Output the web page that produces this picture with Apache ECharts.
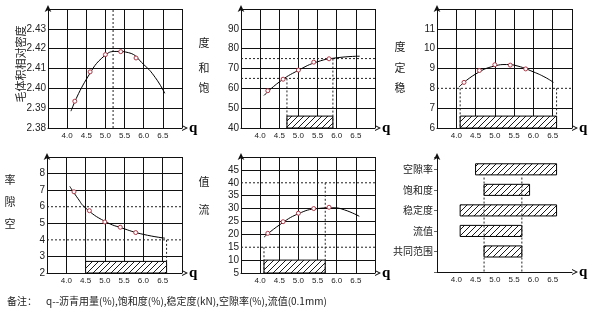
<!DOCTYPE html>
<html><head><meta charset="utf-8">
<script src="https://cdn.jsdelivr.net/npm/echarts@6/dist/echarts.min.js"></script>
<style>html,body{margin:0;padding:0;background:#fff}#c{width:590px;height:312px}</style>
</head><body><div id="c"></div>
<script>
// ---- data ----
const asphalt = [4.2, 4.6, 5.0, 5.4, 5.8];

const densityPts = [2.3935, 2.4083, 2.4170, 2.4185, 2.4153];
const densityCurve = [[4.1,2.3885],[4.5,2.4045],[5.0,2.4168],[5.3,2.4186],[5.6,2.4180],[6.0,2.4120],[6.3,2.4055],[6.55,2.3975]];
const densityOpt = 5.2;

const satPts = [58.8, 64.6, 69.2, 73.2, 74.9];
const satCurve = [[4.1,56.4],[4.5,63.2],[5.0,69.1],[5.5,73.4],[6.0,75.4],[6.6,76.2]];
const satLimits = [65, 75];
const satRange = [4.7, 5.9];
const satBox = [40, 46];

const stabPts = [8.3, 8.9, 9.19, 9.17, 8.98];
const stabCurve = [[4.07,8.07],[4.5,8.72],[5.0,9.13],[5.3,9.2],[5.6,9.12],[6.0,8.83],[6.3,8.56],[6.52,8.3]];
const stabLimits = [8];
const stabRange = [4.1, 6.6];
const stabBox = [6, 6.6];

const voidPts = [6.9, 5.76, 5.08, 4.76, 4.44];
const voidCurve = [[4.09,7.23],[4.3,6.5],[4.5,5.92],[5.0,5.12],[5.5,4.67],[6.0,4.33],[6.56,4.1]];
const voidLimits = [6, 4];
const voidRange = [4.5, 6.6];
const voidBox = [2, 2.7];

const flowPts = [20.4, 24.9, 28.2, 30.0, 30.5];
const flowCurve = [[4.1,18.9],[4.5,23.6],[5.0,28.0],[5.5,30.0],[5.9,30.3],[6.2,29.5],[6.59,27.0]];
const flowLimits = [15, 40];
const flowRange = [4.1, 5.7];
const flowBox = [5, 10];

const rangeCats = ['共同范围', '流值', '稳定度', '饱和度', '空隙率'];
const rangeStart = [4.72, 4.1, 4.1, 4.72, 4.5];
const rangeEnd = [5.7, 5.7, 6.6, 5.9, 6.6];
const commonRange = [4.72, 5.7];

const footNote = '备注：    q--沥青用量(%),饱和度(%),稳定度(kN),空隙率(%),流值(0.1mm)';

// ---- styling / helpers ----
const INK = '#111';
const PT = '#b03848';
const chevron = 'path://M0,10 L5,0 L10,10 L8.2,10 L5,3.6 L1.8,10 Z';

function hatchCanvas() {
  const c = document.createElement('canvas');
  c.width = 6; c.height = 6;
  const g = c.getContext('2d');
  g.fillStyle = '#fff'; g.fillRect(0, 0, 6, 6);
  g.strokeStyle = '#000'; g.lineWidth = 0.9;
  g.beginPath();
  g.moveTo(-1, 7); g.lineTo(7, -1);
  g.moveTo(-1, 1); g.lineTo(1, -1);
  g.moveTo(5, 7); g.lineTo(7, 5);
  g.stroke();
  return c;
}
const pattern = { image: hatchCanvas(), repeat: 'repeat' };

const grids = [
  { left: 48, top: 9, width: 134, height: 119 },
  { left: 241, top: 9, width: 134, height: 119 },
  { left: 437, top: 9, width: 135, height: 119 },
  { left: 47, top: 157, width: 135, height: 116 },
  { left: 241, top: 157, width: 134, height: 116 },
  { left: 437, top: 157, width: 135, height: 115 }
];

const yScales = [
  { min: 2.38, max: 2.44, interval: 0.01, dec: 2, hide: [] },
  { min: 40, max: 100, interval: 10, dec: 0, hide: [] },
  { min: 6, max: 12, interval: 1, dec: 0, hide: stabLimits },
  { min: 2, max: 9, interval: 1, dec: 0, hide: voidLimits },
  { min: 5, max: 50, interval: 5, dec: 0, hide: flowLimits }
];

function xAxisFor(i, withGrid) {
  return {
    type: 'value', gridIndex: i, min: 3.5, max: 7.0, interval: 0.5,
    name: 'q', nameLocation: 'end', nameGap: 7,
    nameTextStyle: { fontFamily: 'Liberation Serif', fontWeight: 'bold', fontSize: 15, color: '#000', verticalAlign: 'middle', padding: [0, 0, 4, 0] },
    axisLine: { show: true, onZero: false, symbol: ['none', chevron], symbolSize: [7, 6], symbolOffset: [0, 3], lineStyle: { color: INK, width: 1 } },
    axisTick: { show: false },
    axisLabel: { fontSize: 8, color: '#222', fontFamily: 'Liberation Sans', margin: 4,
      formatter: v => (v < 3.9 || v > 6.6) ? '' : v.toFixed(1) },
    splitLine: withGrid ? { show: true, lineStyle: { color: INK, width: 1 } } : { show: false }
  };
}

function yAxisFor(i) {
  const s = yScales[i];
  const n = Math.round((s.max - s.min) / s.interval) + 1;
  const colors = [];
  for (let k = 0; k < n; k++) colors.push(INK);
  s.hide.forEach(v => { colors[Math.round((v - s.min) / s.interval)] = 'rgba(0,0,0,0)'; });
  return {
    type: 'value', gridIndex: i, min: s.min, max: s.max, interval: s.interval,
    axisLine: { show: true, onZero: false, symbol: ['none', 'arrow'], symbolSize: [5, 7], symbolOffset: [0, 4], lineStyle: { color: INK, width: 1 } },
    axisTick: { show: false },
    axisLabel: { fontSize: 10, color: '#222', fontFamily: 'Liberation Sans', margin: 2,
      formatter: v => (v > s.max - s.interval / 2) ? '' : v.toFixed(s.dec) },
    splitLine: { show: true, lineStyle: { color: colors, width: 1 } }
  };
}

const series = [];
function dashed(i, pts) {
  series.push({ type: 'line', xAxisIndex: i, yAxisIndex: i, data: pts, symbol: 'none', silent: true, z: 3,
    lineStyle: { color: '#222', width: 1, type: [2, 2] } });
}
function curve(i, data) {
  series.push({ type: 'line', xAxisIndex: i, yAxisIndex: i, data: data, symbol: 'none', smooth: 0.5, silent: true, z: 4,
    lineStyle: { color: '#000', width: 1 } });
}
function points(i, ys) {
  series.push({ type: 'scatter', xAxisIndex: i, yAxisIndex: i, data: asphalt.map((x, k) => [x, ys[k]]),
    symbol: 'circle', symbolSize: 4, z: 5, silent: true,
    itemStyle: { color: '#fff', borderColor: PT, borderWidth: 1, opacity: 1 } });
}
function box(i, xr, yr) {
  series.push({ type: 'custom', xAxisIndex: i, yAxisIndex: i, z: 3, silent: true,
    data: [[xr[0], xr[1], yr[0], yr[1]]],
    renderItem: (p, api) => {
      const a = api.coord([api.value(0), api.value(2)]);
      const b = api.coord([api.value(1), api.value(3)]);
      return { type: 'rect', shape: { x: a[0], y: b[1], width: b[0] - a[0], height: a[1] - b[1] },
        style: { fill: pattern, stroke: '#000', lineWidth: 1 } };
    } });
}

// panel 1
curve(0, densityCurve); points(0, densityPts);
dashed(0, [[densityOpt, yScales[0].min], [densityOpt, yScales[0].max]]);
// panel 2
satLimits.forEach(v => dashed(1, [[3.5, v], [7.0, v]]));
dashed(1, [[satRange[0], satLimits[0]], [satRange[0], satBox[0]]]);
dashed(1, [[satRange[1], satLimits[1]], [satRange[1], satBox[0]]]);
box(1, satRange, satBox);
curve(1, satCurve); points(1, satPts);
// panel 3
stabLimits.forEach(v => dashed(2, [[3.5, v], [7.0, v]]));
dashed(2, [[stabRange[0], stabLimits[0]], [stabRange[0], stabBox[0]]]);
dashed(2, [[stabRange[1], stabLimits[0]], [stabRange[1], stabBox[0]]]);
box(2, stabRange, stabBox);
curve(2, stabCurve); points(2, stabPts);
// panel 4
voidLimits.forEach(v => dashed(3, [[3.5, v], [7.0, v]]));
dashed(3, [[voidRange[0], voidLimits[0]], [voidRange[0], voidBox[0]]]);
dashed(3, [[voidRange[1], voidLimits[1]], [voidRange[1], voidBox[0]]]);
box(3, voidRange, voidBox);
curve(3, voidCurve); points(3, voidPts);
// panel 5
flowLimits.forEach(v => dashed(4, [[3.5, v], [7.0, v]]));
dashed(4, [[flowRange[0], flowLimits[0]], [flowRange[0], flowBox[0]]]);
dashed(4, [[flowRange[1], flowLimits[1]], [flowRange[1], flowBox[0]]]);
box(4, flowRange, flowBox);
curve(4, flowCurve); points(4, flowPts);
// panel 6
commonRange.forEach(v => dashed(5, [[v, 4.6], [v, 0]]));
series.push({ type: 'custom', xAxisIndex: 5, yAxisIndex: 5, z: 2, silent: true,
  data: rangeCats.map((c, k) => [rangeStart[k], rangeEnd[k], k + 1]),
  renderItem: (p, api) => {
    const a = api.coord([api.value(0), api.value(2)]);
    const b = api.coord([api.value(1), api.value(2)]);
    const h = api.size([0, 1])[1] * 0.54;
    return { type: 'rect', shape: { x: a[0], y: a[1] - h / 2, width: b[0] - a[0], height: h },
      style: { fill: pattern, stroke: '#000', lineWidth: 1 } };
  } });

const xAxes = [0, 1, 2, 3, 4].map(i => xAxisFor(i, true));
xAxes.push(xAxisFor(5, false));
const yAxes = [0, 1, 2, 3, 4].map(i => yAxisFor(i));
yAxes.push({
  type: 'value', gridIndex: 5, min: 0, max: 5.6, interval: 1,
  axisLine: { show: true, onZero: false, symbol: ['none', 'arrow'], symbolSize: [5, 7], symbolOffset: [0, 4], lineStyle: { color: INK, width: 1 } },
  axisTick: { show: true, length: 3, lineStyle: { color: '#666' } },
  axisLabel: { fontSize: 10, color: '#222', fontFamily: 'Noto Sans CJK SC', margin: 4,
    formatter: v => (v >= 1 && v <= rangeCats.length && Math.abs(v - Math.round(v)) < 1e-6) ? rangeCats[Math.round(v) - 1] : '' },
  splitLine: { show: false }
});

const cjk = { fontFamily: 'Noto Sans CJK SC', fontSize: 11, fill: '#222', align: 'center', verticalAlign: 'middle' };
function ch(t, x, y) { return { type: 'text', x: x, y: y, style: Object.assign({ text: t }, cjk) }; }

const option = {
  animation: false,
  backgroundColor: '#fff',
  grid: grids,
  xAxis: xAxes,
  yAxis: yAxes,
  series: series,
  graphic: [
    { type: 'text', x: 21, y: 64, rotation: Math.PI / 2,
      style: Object.assign({ text: '毛体积相对密度' }, cjk) },
    ch('度', 204, 43), ch('和', 204, 68), ch('饱', 204, 88),
    ch('度', 400, 47), ch('定', 400, 68), ch('稳', 400, 88),
    ch('率', 10, 180), ch('隙', 10, 202), ch('空', 10, 224),
    ch('值', 204, 182), ch('流', 204, 210),
    { type: 'text', left: 7, top: 296, style: { text: footNote, fontFamily: 'Noto Sans CJK SC', fontSize: 10, fill: '#222' } }
  ]
};
const chart = echarts.init(document.getElementById('c'));
chart.setOption(option);
</script>
</body></html>
